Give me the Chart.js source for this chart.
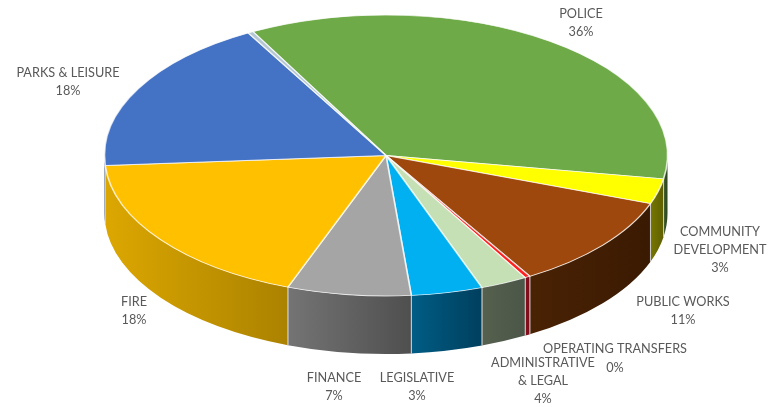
<!DOCTYPE html>
<html>
<head>
<meta charset="utf-8">
<title>Expenditure by department</title>
<script src="https://cdn.jsdelivr.net/npm/chart.js@4/dist/chart.umd.min.js"></script>
<style>
  html, body { margin: 0; padding: 0; background: #fff; }
  canvas { display: block; }
</style>
</head>
<body>
<canvas id="pie" width="775" height="407"></canvas>
<script>
// Data (slice share of the full circle)
const categories = ['POLICE', 'COMMUNITY DEVELOPMENT', 'PUBLIC WORKS', 'OPERATING TRANSFERS',
    'ADMINISTRATIVE & LEGAL', 'LEGISLATIVE', 'FINANCE', 'FIRE', 'PARKS & LEISURE', 'OTHER'];
const shares = [35.5, 2.9, 10.9, 0.3, 2.7, 4.1, 7.1, 18.2, 18.0, 0.3];
const percentLabels = ['36%', '3%', '11%', '0%', '4%', '3%', '7%', '18%', '18%', ''];

// Slice colours
const topColors = ['#6eaa47', '#ffff00', '#9e480e', '#ff2020', '#c5e0b4', '#00b0f0', '#a5a5a5', '#ffc000', '#4472c4', '#b4c7d4'];
const wallLeft = ['#3b5a26', '#777700', '#4a2204', '#8a1020', '#56604e', '#005d85', '#747474', '#dca700', '#24406f', '#667'];
const wallRight = ['#2c4420', '#5f5f00', '#3a1a02', '#7a0c1a', '#4c5648', '#003f5e', '#4f4f4f', '#ab8200', '#24406f', '#667'];

// Where each label sits: lines of text and centre x / first line middle y
const labelPlaces = [
    { lines: ['POLICE'], x: 581, y: 14 },
    { lines: ['COMMUNITY', 'DEVELOPMENT'], x: 720, y: 232 },
    { lines: ['PUBLIC WORKS'], x: 683, y: 302 },
    { lines: ['OPERATING TRANSFERS'], x: 615, y: 349, pctX: 615 },
    { lines: ['ADMINISTRATIVE', '& LEGAL'], x: 543, y: 363 },
    { lines: ['LEGISLATIVE'], x: 417, y: 378 },
    { lines: ['FINANCE'], x: 334, y: 378 },
    { lines: ['FIRE'], x: 134, y: 302 },
    { lines: ['PARKS & LEISURE'], x: 68, y: 73 },
    { lines: [], x: 0, y: 0 }
];

// Squashed pie geometry
const pieX = 386, pieY = 155.5, pieRx = 281.5, pieRy = 140.5, pieDepth = 58;

const pie3d = {
    id: 'pie3d',
    beforeDatasetsDraw(chart) {
        const ctx = chart.ctx;
        const arcs = chart.getDatasetMeta(0).data;

        // side walls, front half only
        arcs.forEach((arc, i) => {
            const norm = a => { const t = 2 * Math.PI; return ((a % t) + t) % t; };
            let a1 = norm(arc.startAngle);
            let a2 = a1 + (arc.endAngle - arc.startAngle);
            if (a1 > Math.PI) { a1 -= 2 * Math.PI; a2 -= 2 * Math.PI; }
            a1 = Math.max(a1, 0);
            a2 = Math.min(a2, Math.PI);
            if (a2 <= a1) return;

            const x1 = pieX + pieRx * Math.cos(a1);
            const x2 = pieX + pieRx * Math.cos(a2);
            const grad = ctx.createLinearGradient(x2, 0, x1, 0);
            grad.addColorStop(0, wallLeft[i]);
            grad.addColorStop(1, wallRight[i]);

            ctx.beginPath();
            ctx.ellipse(pieX, pieY, pieRx, pieRy, 0, a1, a2);
            ctx.ellipse(pieX, pieY + pieDepth, pieRx, pieRy, 0, a2, a1, true);
            ctx.closePath();
            ctx.fillStyle = grad;
            ctx.fill();
            ctx.strokeStyle = 'rgba(225,225,225,0.75)';
            ctx.lineWidth = 1;
            ctx.beginPath();
            if (a1 > 0) { ctx.moveTo(x1, pieY + pieRy * Math.sin(a1)); ctx.lineTo(x1, pieY + pieRy * Math.sin(a1) + pieDepth); }
            if (a2 < Math.PI) { ctx.moveTo(x2, pieY + pieRy * Math.sin(a2)); ctx.lineTo(x2, pieY + pieRy * Math.sin(a2) + pieDepth); }
            ctx.stroke();
        });

        // top face: library arcs drawn through a squash transform
        const first = arcs[0];
        ctx.save();
        ctx.translate(pieX, pieY);
        ctx.scale(pieRx / first.outerRadius, pieRy / first.outerRadius);
        ctx.translate(-first.x, -first.y);
    },
    afterDatasetsDraw(chart) {
        const ctx = chart.ctx;
        ctx.restore();

        ctx.font = '12.7px Lato';
        ctx.fillStyle = '#595959';
        ctx.textAlign = 'center';
        ctx.textBaseline = 'middle';
        labelPlaces.forEach((place, i) => {
            place.lines.forEach((line, n) => ctx.fillText(line, place.x, place.y + n * 18));
            ctx.fillText(percentLabels[i], place.pctX || place.x, place.y + place.lines.length * 18 + (place.pctX ? 1 : 0));
        });
    }
};

new Chart(document.getElementById('pie'), {
    type: 'pie',
    data: {
        labels: categories,
        datasets: [{
            data: shares,
            backgroundColor: topColors,
            borderColor: 'rgba(255,255,255,0.75)',
            borderWidth: 1.2,
            clip: false
        }]
    },
    options: {
        responsive: false,
        animation: false,
        rotation: -28.2,
        layout: { padding: 0 },
        plugins: { legend: { display: false }, tooltip: { enabled: false } }
    },
    plugins: [pie3d]
});
</script>
</body>
</html>
